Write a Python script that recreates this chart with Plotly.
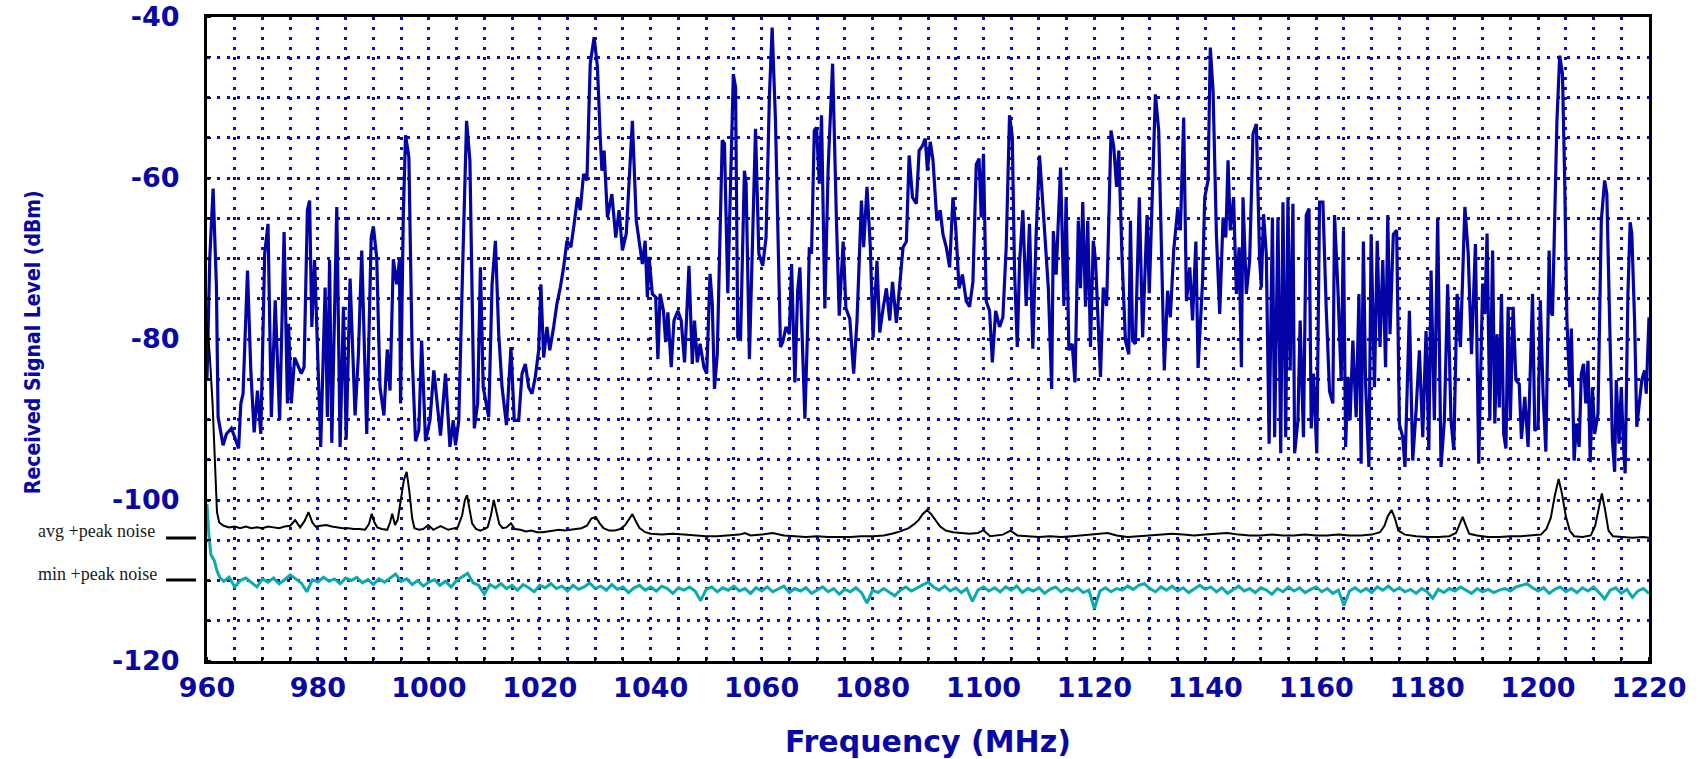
import plotly.graph_objects as go

# ---------------- data ----------------
freq_peak = [
    960.0, 960.5, 961.1, 961.7, 962.0, 962.9, 963.5, 964.4, 965.0, 965.7,
    966.1, 966.5, 967.3, 967.9, 968.5, 969.1, 969.7, 970.4, 971.0, 971.6,
    972.3, 973.1, 973.9, 974.5, 974.7, 975.2, 975.8, 977.0, 977.5, 978.1,
    978.5, 978.9, 979.4, 979.9, 980.5, 981.3, 981.7, 982.1, 982.5, 983.4,
    984.0, 984.6, 985.1, 985.8, 986.7, 987.3, 987.9, 988.8, 989.6, 990.0,
    990.6, 991.2, 991.9, 992.5, 993.0, 993.6, 994.2, 994.7, 994.9, 995.4,
    995.8, 996.4, 997.0, 997.6, 998.2, 998.7, 999.4, 1000.2, 1000.9, 1002.1,
    1003.0, 1003.8, 1004.4, 1004.8, 1005.4, 1006.0, 1006.8, 1007.4, 1008.0, 1008.2,
    1008.8, 1009.3, 1009.8, 1010.4, 1010.8, 1011.4, 1012.0, 1012.6, 1013.2, 1014.0,
    1014.8, 1015.4, 1016.2, 1016.8, 1017.4, 1018.0, 1018.6, 1019.2, 1019.8, 1020.2,
    1020.7, 1021.3, 1021.8, 1022.5, 1023.1, 1023.7, 1024.3, 1024.9, 1025.6, 1026.2,
    1026.8, 1027.3, 1027.9, 1028.5, 1029.1, 1029.8, 1030.4, 1030.9, 1031.2, 1031.6,
    1032.2, 1033.0, 1033.7, 1034.3, 1034.9, 1035.6, 1036.2, 1036.7, 1037.4, 1038.0,
    1038.5, 1039.0, 1039.4, 1039.7, 1040.3, 1040.9, 1041.3, 1041.7, 1042.3, 1042.7,
    1043.1, 1043.7, 1044.2, 1044.9, 1045.5, 1046.1, 1046.9, 1047.5, 1047.9, 1048.4,
    1048.9, 1049.6, 1050.1, 1050.7, 1051.1, 1051.5, 1052.0, 1052.9, 1053.3, 1053.9,
    1054.9, 1055.3, 1055.7, 1056.2, 1056.9, 1057.2, 1057.8, 1058.9, 1059.5, 1060.2,
    1060.8, 1061.4, 1061.9, 1062.5, 1063.4, 1063.8, 1064.4, 1065.0, 1065.4, 1066.0,
    1066.5, 1066.9, 1067.4, 1067.8, 1068.3, 1068.6, 1069.0, 1069.5, 1069.9, 1070.4,
    1070.8, 1071.4, 1072.0, 1072.8, 1073.5, 1074.0, 1074.7, 1075.2, 1075.9, 1076.6,
    1077.2, 1078.0, 1078.4, 1079.0, 1079.6, 1080.1, 1080.8, 1081.3, 1081.9, 1082.5,
    1083.1, 1083.6, 1084.3, 1084.9, 1085.5, 1086.1, 1086.6, 1087.2, 1087.9, 1088.4,
    1089.0, 1089.5, 1089.9, 1090.4, 1090.9, 1091.6, 1092.2, 1092.7, 1093.3, 1093.9,
    1094.5, 1095.0, 1095.6, 1096.2, 1096.9, 1097.5, 1098.1, 1098.7, 1099.2, 1099.6,
    1100.0, 1100.5, 1101.1, 1101.6, 1102.2, 1102.9, 1103.5, 1104.1, 1104.7, 1105.2,
    1105.6, 1106.1, 1106.5, 1107.1, 1107.7, 1108.3, 1108.9, 1109.5, 1110.1, 1110.5,
    1111.1, 1111.7, 1112.3, 1112.6, 1113.1, 1113.5, 1113.9, 1114.5, 1114.9, 1115.4,
    1116.0, 1116.5, 1117.1, 1117.5, 1117.9, 1118.4, 1118.8, 1119.3, 1119.8, 1120.2,
    1120.6, 1121.1, 1121.6, 1122.2, 1122.6, 1123.0, 1123.5, 1124.0, 1124.4, 1125.0,
    1125.6, 1126.2, 1126.5, 1126.9, 1127.4, 1128.1, 1128.7, 1129.5, 1129.9, 1130.5,
    1131.0, 1131.6, 1132.0, 1132.6, 1133.2, 1133.7, 1134.3, 1135.0, 1135.5, 1136.1,
    1136.6, 1137.2, 1137.7, 1138.3, 1138.7, 1139.5, 1139.9, 1140.5, 1140.9, 1141.4,
    1142.0, 1142.6, 1143.2, 1143.7, 1144.1, 1144.5, 1145.1, 1145.6, 1146.1, 1146.5,
    1146.8, 1147.4, 1148.0, 1148.6, 1149.2, 1149.8, 1150.1, 1150.5, 1151.0, 1151.5,
    1152.1, 1152.5, 1153.1, 1153.6, 1154.0, 1154.5, 1154.9, 1155.3, 1155.8, 1156.1,
    1156.7, 1157.1, 1157.7, 1158.2, 1158.7, 1159.1, 1159.5, 1160.1, 1160.6, 1161.2,
    1161.8, 1162.4, 1163.0, 1163.3, 1163.9, 1164.5, 1164.9, 1165.3, 1165.7, 1166.1,
    1166.6, 1167.2, 1167.7, 1168.1, 1168.5, 1168.9, 1169.5, 1169.9, 1170.5, 1171.0,
    1171.5, 1172.0, 1172.5, 1172.9, 1173.3, 1173.9, 1174.5, 1175.0, 1175.6, 1176.0,
    1176.8, 1177.4, 1178.0, 1178.6, 1179.2, 1179.8, 1180.3, 1180.7, 1181.3, 1181.9,
    1182.5, 1183.1, 1183.7, 1184.3, 1184.8, 1185.4, 1186.0, 1186.8, 1187.4, 1188.0,
    1188.7, 1189.3, 1190.0, 1190.4, 1190.8, 1191.3, 1191.8, 1192.2, 1192.6, 1193.0,
    1193.4, 1193.8, 1194.2, 1194.6, 1195.0, 1195.5, 1196.0, 1196.6, 1197.0, 1197.6,
    1198.2, 1199.0, 1199.4, 1200.0, 1200.4, 1200.9, 1201.4, 1202.0, 1202.2, 1202.6,
    1203.0, 1203.4, 1203.9, 1204.4, 1204.8, 1205.2, 1205.7, 1206.0, 1206.5, 1206.9,
    1207.4, 1207.8, 1208.2, 1208.6, 1209.0, 1209.4, 1209.8, 1210.2, 1210.8, 1211.4,
    1212.0, 1212.4, 1212.9, 1213.4, 1213.8, 1214.1, 1214.6, 1215.0, 1215.4, 1215.7,
    1216.2, 1216.6, 1216.9, 1217.4, 1217.8, 1218.3, 1218.7, 1219.2, 1219.5, 1220.0,
]
level_peak = [
    -85, -70, -61.3, -73.5, -89.7, -93.2, -91.8, -91.1, -92.2, -93.6,
    -88.0, -86.8, -71.5, -83.9, -91.6, -86.4, -91.8, -69.4, -65.7, -89.7,
    -75.2, -90.1, -66.7, -88.0, -78.1, -88.0, -82.3, -84.3, -83.5, -64.0,
    -62.8, -78.5, -70.2, -81.0, -93.4, -73.6, -89.7, -70.2, -92.9, -63.6,
    -93.4, -76.0, -92.5, -72.5, -89.5, -81.9, -69.0, -91.8, -67.4, -66.0,
    -69.9, -86.0, -89.5, -81.3, -86.4, -70.1, -73.2, -70.2, -88.0, -64.4,
    -54.7, -57.4, -82.3, -92.7, -91.3, -80.2, -92.7, -90.1, -83.9, -92.0,
    -84.3, -93.4, -90.1, -93.2, -90.1, -73.6, -52.9, -57.8, -81.9, -91.1,
    -88.0, -71.1, -86.0, -88.0, -89.7, -73.2, -67.8, -79.4, -86.0, -90.7,
    -81.0, -90.1, -90.1, -84.3, -83.1, -86.0, -86.8, -84.7, -81.4, -73.2,
    -82.3, -78.5, -81.4, -78.5, -75.6, -73.6, -71.1, -67.8, -68.6, -65.7,
    -62.4, -64.0, -59.5, -60.3, -45.8, -42.5, -46.2, -54.9, -59.1, -56.6,
    -64.9, -62.0, -67.4, -64.0, -69.0, -66.9, -59.5, -52.9, -65.3, -68.6,
    -70.7, -67.8, -74.8, -69.8, -74.4, -74.8, -82.5, -74.4, -76.5, -80.4,
    -76.7, -83.5, -77.7, -76.5, -77.7, -82.9, -70.9, -83.1, -77.7, -82.9,
    -80.6, -83.5, -84.3, -71.9, -75.6, -86.2, -81.9, -55.3, -55.7, -74.3,
    -47.1, -48.7, -79.8, -80.0, -59.1, -60.7, -82.5, -53.9, -69.4, -70.9,
    -67.4, -49.9, -41.3, -52.9, -81.0, -80.4, -78.5, -79.4, -70.7, -85.4,
    -74.0, -71.1, -80.2, -89.9, -78.5, -68.6, -69.4, -54.1, -53.7, -60.7,
    -52.2, -76.2, -58.7, -45.8, -65.5, -77.1, -67.9, -76.2, -77.5, -84.3,
    -77.7, -62.8, -68.6, -61.1, -68.6, -79.8, -70.3, -79.2, -76.2, -73.7,
    -77.7, -72.9, -78.0, -73.7, -68.6, -67.9, -57.2, -62.4, -63.2, -56.6,
    -56.0, -55.1, -59.1, -55.5, -57.8, -65.3, -64.0, -67.0, -68.6, -71.1,
    -62.4, -66.1, -73.7, -72.0, -75.3, -76.0, -72.9, -58.3, -57.6, -64.9,
    -57.0, -75.3, -76.5, -82.9, -76.5, -78.5, -77.3, -68.6, -52.2, -54.9,
    -71.5, -81.0, -70.7, -64.0, -75.9, -65.7, -81.2, -67.0, -57.2, -61.1,
    -67.4, -73.7, -86.2, -66.6, -72.0, -64.6, -58.7, -75.9, -62.4, -81.4,
    -80.6, -85.4, -65.3, -73.7, -63.0, -76.0, -65.3, -81.0, -67.8, -70.2,
    -75.9, -84.7, -73.6, -75.9, -65.3, -54.1, -56.2, -61.1, -56.6, -70.2,
    -80.2, -81.9, -65.3, -80.2, -80.6, -62.4, -79.8, -64.6, -74.3, -61.1,
    -49.6, -54.1, -67.0, -83.9, -74.0, -77.3, -69.0, -64.0, -66.5, -52.5,
    -75.3, -71.1, -77.7, -67.9, -83.6, -72.9, -62.4, -60.3, -43.8, -49.2,
    -67.0, -76.9, -64.9, -67.4, -57.8, -66.5, -62.4, -74.4, -68.6, -83.5,
    -62.4, -74.4, -70.2, -54.5, -53.3, -70.2, -73.6, -64.5, -69.5, -93.0,
    -64.9, -92.2, -64.9, -94.2, -63.0, -92.2, -62.4, -83.9, -63.2, -94.2,
    -90.1, -77.7, -92.2, -64.6, -63.8, -91.1, -84.3, -94.2, -63.0, -63.0,
    -76.2, -86.5, -88.0, -64.6, -73.6, -85.2, -66.5, -93.4, -84.7, -90.1,
    -80.2, -89.7, -74.4, -95.5, -67.9, -85.6, -95.9, -67.0, -86.0, -67.8,
    -81.0, -70.2, -83.5, -64.6, -79.4, -67.0, -66.5, -90.6, -92.2, -95.9,
    -76.5, -95.1, -88.9, -81.4, -92.2, -79.0, -93.8, -71.5, -90.1, -64.9,
    -95.9, -90.1, -73.2, -90.1, -93.8, -74.4, -81.0, -63.6, -69.4, -81.9,
    -68.2, -95.5, -73.1, -76.9, -66.9, -90.1, -69.0, -90.5, -79.4, -88.5,
    -74.4, -91.8, -93.6, -76.0, -90.1, -76.0, -85.1, -85.6, -92.4, -87.2,
    -93.4, -74.4, -91.4, -90.9, -75.2, -86.8, -94.0, -69.0, -76.5, -77.1,
    -64.9, -52.9, -44.8, -47.1, -60.3, -77.7, -86.0, -78.7, -95.1, -90.5,
    -93.4, -84.3, -83.1, -88.0, -82.7, -95.3, -86.0, -91.8, -89.3, -65.3,
    -60.3, -62.0, -77.7, -92.6, -96.5, -85.1, -93.0, -86.0, -93.4, -96.7,
    -74.4, -65.5, -66.9, -77.7, -90.9, -88.0, -85.1, -83.9, -86.8, -77.3,
]

freq_avg = [
    960.0, 960.5, 961.0, 961.4, 961.8, 962.2, 963, 964, 965, 966,
    967, 968, 969, 970, 971, 972, 973, 974, 975, 975.9,
    976.8, 977.6, 978.3, 979.0, 979.6, 980.5, 981.5, 982.5, 983.5, 984.5,
    985.5, 986.5, 987.5, 988.5, 989.2, 989.7, 990.2, 990.7, 991.5, 992.5,
    993.0, 993.4, 993.9, 994.4, 994.9, 995.5, 996.0, 996.5, 997.0, 997.4,
    998.2, 999.0, 999.9, 1000.8, 1002.1, 1003.5, 1005.2, 1006.0, 1006.5, 1006.9,
    1007.3, 1007.8, 1008.5, 1009.3, 1010.6, 1011.2, 1011.7, 1012.2, 1012.7, 1013.3,
    1014.0, 1014.8, 1015.5, 1016.5, 1017.5, 1018.5, 1019.5, 1020.5, 1021.5, 1022.5,
    1023.5, 1024.5, 1025.5, 1026.5, 1027.5, 1028.5, 1029.3, 1030.1, 1030.8, 1031.5,
    1032.5, 1033.5, 1034.5, 1035.4, 1036.0, 1036.7, 1037.3, 1038.0, 1039.0, 1040,
    1042, 1044, 1046, 1048, 1050, 1052, 1054, 1056, 1057, 1058,
    1060, 1062, 1064, 1066, 1068, 1070, 1072, 1074, 1076, 1078,
    1080, 1082, 1083.5, 1085, 1086.5, 1087.5, 1088.3, 1089.0, 1089.8, 1090.5,
    1091.3, 1092.2, 1093.2, 1094.5, 1096, 1097.5, 1099, 1100, 1101.2, 1102.2,
    1103.5, 1104.9, 1106.1, 1108, 1110, 1112, 1114, 1116, 1118, 1120,
    1122.4, 1124, 1126, 1128, 1130, 1132, 1134, 1136, 1138, 1140,
    1142, 1144, 1146, 1148, 1150, 1152, 1154, 1156, 1158, 1160,
    1162, 1164, 1166, 1168, 1170, 1171.5, 1172.3, 1172.9, 1173.6, 1174.2,
    1174.8, 1176, 1178, 1180, 1182, 1184, 1185.2, 1185.8, 1186.4, 1187.0,
    1187.6, 1189, 1191, 1193, 1195, 1197, 1199, 1200.5, 1201.5, 1202.3,
    1203.0, 1203.7, 1204.3, 1205.0, 1205.7, 1206.5, 1208, 1209.5, 1210.3, 1210.9,
    1211.5, 1212.1, 1212.7, 1213.5, 1215, 1217, 1219, 1220,
]
level_avg = [
    -78, -82, -88, -95, -101.5, -102.8, -103.2, -103.4, -103.3, -103.5,
    -103.3, -103.5, -103.4, -103.5, -103.3, -103.4, -103.5, -103.3, -103.2, -102.5,
    -103.4, -102.6, -101.5, -102.8, -103.3, -103.2, -103.1, -103.3, -103.4, -103.5,
    -103.5, -103.6, -103.6, -103.7, -103.0, -101.7, -102.8, -103.4, -103.6, -103.7,
    -102.8, -101.7, -103.1, -102.4, -100.2, -97.5, -96.5, -99.0, -102.3, -103.5,
    -103.7, -103.6, -103.1, -103.7, -103.25, -103.7, -103.4, -101.9, -100.0, -99.4,
    -101.0, -102.9, -103.6, -103.8, -103.4, -101.9, -100.0, -101.5, -103.0, -103.5,
    -103.4, -102.9, -103.6, -103.7, -103.9, -103.8, -104.0, -104.0, -103.9, -103.8,
    -103.7, -103.8, -103.7, -103.6, -103.5, -103.2, -102.3, -102.1, -102.9, -103.5,
    -103.8, -103.8, -103.6, -103.1, -102.4, -101.75, -102.6, -103.5, -104.0, -104.2,
    -104.3, -104.2, -104.3, -104.4, -104.5, -104.5, -104.4, -104.3, -104.1, -104.4,
    -104.3, -104.1, -104.4, -104.5, -104.6, -104.5, -104.6, -104.6, -104.6, -104.5,
    -104.5, -104.4, -104.2, -103.9, -103.5, -103.0, -102.5, -101.8, -101.25, -101.7,
    -102.5, -103.3, -103.8, -104.0, -104.1, -104.2, -104.1, -103.75, -104.5, -104.4,
    -104.3, -103.8, -104.4, -104.5, -104.6, -104.5, -104.6, -104.5, -104.4, -104.3,
    -104.1, -104.4, -104.6, -104.5, -104.4, -104.3, -104.2, -104.3, -104.4, -104.3,
    -104.2, -104.1, -104.3, -104.4, -104.4, -104.3, -104.4, -104.4, -104.3, -104.4,
    -104.4, -104.3, -104.4, -104.4, -104.3, -104.0, -103.2, -102.0, -101.25, -102.3,
    -103.8, -104.3, -104.5, -104.6, -104.6, -104.5, -104.1, -103.0, -102.1, -103.2,
    -104.2, -104.4, -104.6, -104.6, -104.5, -104.5, -104.4, -104.3, -103.6, -102.2,
    -99.5, -97.4, -99.2, -102.0, -103.8, -104.5, -104.6, -104.4, -103.2, -101.0,
    -99.2, -101.3, -103.8, -104.5, -104.6, -104.7, -104.6, -104.7,
]

freq_min = [960.0, 960.3, 960.7, 961.3, 961.8, 962.3] + list(range(963, 1221))
level_min = [
    -100.5, -104.0, -106.8, -107.5, -108.8, -109.6,
    -110.1, -109.6, -110.8, -110.0, -109.7, -110.3, -110.8, -109.8, -110.2, -109.7,
    -110.4, -109.9, -109.3, -109.8, -110.3, -111.4, -109.9, -110.2, -109.6, -110.1,
    -109.8, -110.4, -109.7, -110.0, -109.6, -110.3, -109.9, -110.5, -109.8, -110.2,
    -109.7, -109.2, -110.1, -109.8, -110.5, -110.0, -110.7, -110.2, -109.9, -110.6,
    -110.1, -110.8, -110.0, -109.6, -109.1, -110.3, -110.6, -111.7, -110.5, -110.9,
    -110.4, -111.0, -110.6, -111.2, -110.5, -110.9, -111.4, -110.6, -110.9, -110.4,
    -111.0, -110.7, -111.3, -110.6, -111.1, -110.8, -110.3, -111.0, -110.7, -111.2,
    -110.5, -111.1, -110.8, -111.5, -110.9, -110.6, -111.2, -110.8, -111.3, -110.7,
    -111.0, -111.6, -110.9, -111.2, -110.8, -111.3, -112.5, -111.1, -110.8, -111.4,
    -110.9, -111.2, -110.7, -111.3, -111.0, -111.6, -110.9, -111.3, -110.8, -111.4,
    -111.1, -110.7, -111.5, -111.0, -111.3, -110.9, -111.6, -111.2, -110.8, -111.4,
    -111.0, -111.7, -111.1, -111.4, -110.9, -111.5, -112.8, -111.2, -111.5, -111.0,
    -111.4, -111.9, -111.2, -110.8, -111.3, -110.9, -110.5, -110.2, -110.8, -111.2,
    -110.7, -111.3, -110.9, -111.5, -111.0, -112.6, -111.2, -110.8, -111.3, -110.9,
    -111.4, -110.8, -111.2, -110.7, -111.5, -111.0, -111.3, -110.9, -111.6, -111.1,
    -110.8, -111.4, -111.0, -111.3, -110.9, -111.5, -111.2, -113.5, -111.3, -110.9,
    -111.4, -111.0, -111.2, -110.7, -111.1, -110.6, -110.4, -111.0, -111.4, -110.8,
    -111.2, -110.7, -111.3, -110.9, -111.5, -111.0, -110.6, -111.1, -110.8, -111.4,
    -110.9, -111.6, -111.1, -110.7, -111.3, -111.0, -111.5, -110.9, -111.2, -111.7,
    -111.0, -111.4, -110.8, -111.3, -110.9, -111.5, -111.1, -110.8, -111.4, -111.0,
    -111.6, -111.2, -113.1, -111.3, -110.9, -111.4, -111.0, -111.5, -110.8, -111.2,
    -110.7, -111.3, -110.9, -111.4, -111.1, -111.6, -111.0, -111.4, -112.2, -111.1,
    -111.5, -111.0, -111.3, -110.8, -111.2, -111.6, -111.0, -111.4, -111.1, -111.5,
    -111.2, -111.0, -111.3, -110.8, -110.6, -110.4, -110.9, -111.3, -110.9, -111.6,
    -111.1, -110.8, -111.4, -111.0, -111.5, -110.9, -111.3, -110.8, -111.5, -112.3,
    -111.2, -110.9, -111.6, -111.1, -112.1, -111.3, -111.0, -111.6,
]

x_ticks = [960, 980, 1000, 1020, 1040, 1060, 1080, 1100, 1120, 1140, 1160, 1180, 1200, 1220]
x_tick_labels = [str(v) for v in x_ticks]
y_ticks = [-120, -100, -80, -60, -40]
y_tick_labels = ["-120", "-100", "-80", "-60", "-40"]

assert len(freq_peak) == len(level_peak)
assert len(freq_avg) == len(level_avg)
assert len(freq_min) == len(level_min)

# ---------------- style ----------------
TXT_BLUE = "#0808A4"
GRID_BLUE = "#0E0EBE"
DOTS = "3px,7px"

fig = go.Figure()
fig.add_trace(go.Scatter(x=freq_peak, y=level_peak, mode="lines",
                         line=dict(color="#0404A6", width=3.2), hoverinfo="skip"))
fig.add_trace(go.Scatter(x=freq_avg, y=level_avg, mode="lines",
                         line=dict(color="#000000", width=2), hoverinfo="skip"))
fig.add_trace(go.Scatter(x=freq_min, y=level_min, mode="lines",
                         line=dict(color="#0CAAAA", width=3), hoverinfo="skip"))

tick_font = dict(family="DejaVu Sans", size=27, color=TXT_BLUE, weight="bold")

# plot box at x 207..1649, y 17..661 of the 1701x759 page
fig.update_layout(
    width=1701, height=759,
    margin=dict(l=207, r=52, t=17, b=98),
    paper_bgcolor="white", plot_bgcolor="white",
    showlegend=False, hovermode=False,
)

fig.update_xaxes(
    range=[960, 1220], tickmode="array", tickvals=x_ticks, ticktext=x_tick_labels,
    tickfont=tick_font, ticks="", ticklabelstandoff=1, automargin=False,
    ticklabeloverflow="allow",
    showgrid=True, gridcolor=GRID_BLUE, gridwidth=2.7, griddash=DOTS,
    zeroline=False, showline=True, linecolor="black", linewidth=3, mirror=True,
    minor=dict(dtick=5, tick0=960, showgrid=True, gridcolor=GRID_BLUE, gridwidth=2.7,
               griddash=DOTS, ticks="inside", ticklen=4, tickwidth=2, tickcolor="black"),
)
fig.update_yaxes(
    range=[-120, -40], tickmode="array", tickvals=y_ticks, ticktext=y_tick_labels,
    tickfont=tick_font, ticks="", ticklabelstandoff=19, automargin=False,
    ticklabeloverflow="allow",
    showgrid=True, gridcolor=GRID_BLUE, gridwidth=2.7, griddash=DOTS,
    zeroline=False, showline=True, linecolor="black", linewidth=3, mirror=True,
    minor=dict(dtick=5, tick0=-120, showgrid=True, gridcolor=GRID_BLUE, gridwidth=2.7,
               griddash=DOTS, ticks="inside", ticklen=4, tickwidth=2, tickcolor="black"),
)

# axis titles
fig.add_annotation(text="Frequency (MHz)", xref="paper", yref="paper", x=0.5, y=-0.125,
                   xanchor="center", yanchor="middle", showarrow=False,
                   font=dict(family="DejaVu Sans", size=30, color=TXT_BLUE, weight="bold"))
fig.add_annotation(text="Received Signal Level (dBm)", xref="paper", yref="paper",
                   x=-0.1207, y=0.495, xanchor="center", yanchor="middle", textangle=-90,
                   showarrow=False,
                   font=dict(family="Liberation Sans Narrow, DejaVu Sans Condensed, Arial Narrow",
                             size=21, color=TXT_BLUE, weight="bold"))

# side labels
for label, ypos in [("avg +peak noise", 0.2019), ("min +peak noise", 0.1351)]:
    fig.add_annotation(text=label, xref="paper", yref="paper", x=-0.1186, y=ypos,
                       xanchor="left", yanchor="middle", showarrow=False,
                       font=dict(family="Liberation Serif, Times New Roman, serif",
                                 size=18, color="#1A1A1A"))
for ypos in [0.191, 0.1258]:
    fig.add_shape(type="line", xref="paper", yref="paper", x0=-0.0284, x1=-0.0076,
                  y0=ypos, y1=ypos, line=dict(color="black", width=3))

# remove the default 8px page margin so the figure fills the window exactly
fig.write_html("out.html", config={"displayModeBar": False},
               post_script="document.body.style.margin='0px';")
